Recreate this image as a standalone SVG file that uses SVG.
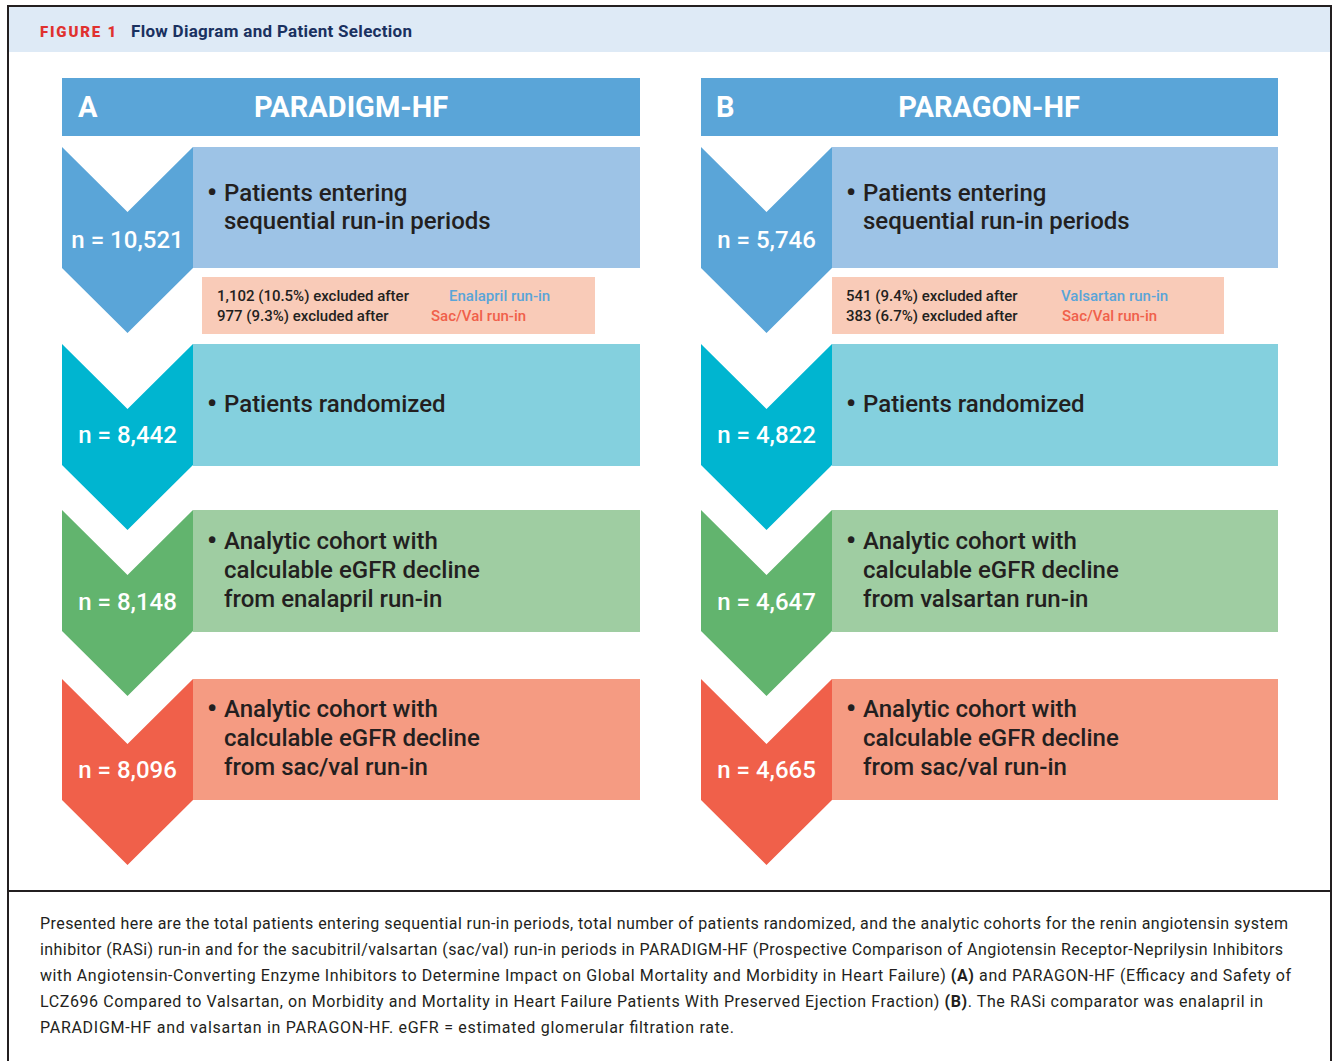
<svg xmlns="http://www.w3.org/2000/svg" width="1336" height="1061" viewBox="0 0 1336 1061">
  <style>
    text { font-family: Roboto, Lato, "Liberation Sans", sans-serif; }
    .hdr { fill: #5aa5d8; }
    .hdrtxt { fill: #ffffff; font-weight: bold; font-size: 29px; }
    .n { fill: #ffffff; font-size: 24px; font-weight: 500; text-anchor: middle; }
    .lbl { fill: #231f20; font-size: 24px; font-weight: 500; }
    .bul { fill: #231f20; font-size: 28px; font-weight: bold; }
    .exc { fill: #f9cbb8; }
    .exctxt { fill: #231f20; font-size: 15px; font-weight: 500; }
    .blue { fill: #5aa5d8; }
    .red { fill: #f0604a; }
    .cap { fill: #231f20; font-size: 16px; }
  </style>
  <defs>
    <!-- chevron shape, 131 wide, drawn from top-left corner -->
    <path id="chev" d="M0,0 L65.5,65 L131,0 L131,121 L65.5,186 L0,121 Z"/>
  </defs>

  <!-- frame and title band -->
  <rect x="0" y="0" width="1336" height="1061" fill="#ffffff"/>
  <rect x="9" y="7" width="1321" height="45" fill="#deeaf6"/>
  <path d="M8,1061 V6 H1331 V1061" fill="none" stroke="#231f20" stroke-width="2"/>
  <line x1="8" y1="891" x2="1331" y2="891" stroke="#231f20" stroke-width="2"/>
  <text x="40" y="37" font-size="15" font-weight="900" fill="#e0312f" letter-spacing="1.8" textLength="78" lengthAdjust="spacing">FIGURE 1</text>
  <text x="131" y="37" font-size="17" font-weight="bold" fill="#1a3160" textLength="281" lengthAdjust="spacing">Flow Diagram and Patient Selection</text>

  <!-- Panel A -->
  <g id="panel-a-header">
    <rect class="hdr" x="62" y="78" width="578" height="58"/>
    <text class="hdrtxt" x="78" y="117">A</text>
    <text class="hdrtxt" x="351" y="117" text-anchor="middle">PARADIGM-HF</text>
  </g>

  <g id="a-entering">
    <rect x="193" y="147" width="447" height="121" fill="#9dc3e6"/>
    <use href="#chev" x="62" y="147" fill="#5aa5d8"/>
    <text class="n" x="127.5" y="248">n = 10,521</text>
    <text class="bul" x="207" y="202">•</text>
    <text class="lbl" x="224" y="201">Patients entering</text>
    <text class="lbl" x="224" y="229">sequential run-in periods</text>
  </g>
  <g id="a-excluded">
    <rect class="exc" x="202" y="277" width="393" height="57"/>
    <text class="exctxt" x="217" y="301">1,102 (10.5%) excluded after</text>
    <text class="exctxt blue" x="449" y="301">Enalapril run-in</text>
    <text class="exctxt" x="217" y="321">977 (9.3%) excluded after</text>
    <text class="exctxt red" x="431" y="321">Sac/Val run-in</text>
  </g>
  <g id="a-randomized">
    <rect x="193" y="344" width="447" height="122" fill="#84d0de"/>
    <use href="#chev" x="62" y="344" fill="#00b5d0"/>
    <text class="n" x="127.5" y="443">n = 8,442</text>
    <text class="bul" x="207" y="413">•</text>
    <text class="lbl" x="224" y="412">Patients randomized</text>
  </g>
  <g id="a-rasi">
    <rect x="193" y="510" width="447" height="122" fill="#9fcda2"/>
    <use href="#chev" x="62" y="510" fill="#62b46e"/>
    <text class="n" x="127.5" y="610">n = 8,148</text>
    <text class="bul" x="207" y="550">•</text>
    <text class="lbl" x="224" y="549">Analytic cohort with</text>
    <text class="lbl" x="224" y="578">calculable eGFR decline</text>
    <text class="lbl" x="224" y="607">from enalapril run-in</text>
  </g>
  <g id="a-sacval">
    <rect x="193" y="679" width="447" height="121" fill="#f59b82"/>
    <use href="#chev" x="62" y="679" fill="#f0604a"/>
    <text class="n" x="127.5" y="778">n = 8,096</text>
    <text class="bul" x="207" y="718">•</text>
    <text class="lbl" x="224" y="717">Analytic cohort with</text>
    <text class="lbl" x="224" y="746">calculable eGFR decline</text>
    <text class="lbl" x="224" y="775">from sac/val run-in</text>
  </g>

  <!-- Panel B -->
  <g id="panel-b-header">
    <rect class="hdr" x="701" y="78" width="577" height="58"/>
    <text class="hdrtxt" x="716" y="117">B</text>
    <text class="hdrtxt" x="989" y="117" text-anchor="middle">PARAGON-HF</text>
  </g>

  <g id="b-entering">
    <rect x="832" y="147" width="446" height="121" fill="#9dc3e6"/>
    <use href="#chev" x="701" y="147" fill="#5aa5d8"/>
    <text class="n" x="766.5" y="248">n = 5,746</text>
    <text class="bul" x="846" y="202">•</text>
    <text class="lbl" x="863" y="201">Patients entering</text>
    <text class="lbl" x="863" y="229">sequential run-in periods</text>
  </g>
  <g id="b-excluded">
    <rect class="exc" x="832" y="277" width="392" height="57"/>
    <text class="exctxt" x="846" y="301">541 (9.4%) excluded after</text>
    <text class="exctxt blue" x="1061" y="301">Valsartan run-in</text>
    <text class="exctxt" x="846" y="321">383 (6.7%) excluded after</text>
    <text class="exctxt red" x="1062" y="321">Sac/Val run-in</text>
  </g>
  <g id="b-randomized">
    <rect x="832" y="344" width="446" height="122" fill="#84d0de"/>
    <use href="#chev" x="701" y="344" fill="#00b5d0"/>
    <text class="n" x="766.5" y="443">n = 4,822</text>
    <text class="bul" x="846" y="413">•</text>
    <text class="lbl" x="863" y="412">Patients randomized</text>
  </g>
  <g id="b-rasi">
    <rect x="832" y="510" width="446" height="122" fill="#9fcda2"/>
    <use href="#chev" x="701" y="510" fill="#62b46e"/>
    <text class="n" x="766.5" y="610">n = 4,647</text>
    <text class="bul" x="846" y="550">•</text>
    <text class="lbl" x="863" y="549">Analytic cohort with</text>
    <text class="lbl" x="863" y="578">calculable eGFR decline</text>
    <text class="lbl" x="863" y="607">from valsartan run-in</text>
  </g>
  <g id="b-sacval">
    <rect x="832" y="679" width="446" height="121" fill="#f59b82"/>
    <use href="#chev" x="701" y="679" fill="#f0604a"/>
    <text class="n" x="766.5" y="778">n = 4,665</text>
    <text class="bul" x="846" y="718">•</text>
    <text class="lbl" x="863" y="717">Analytic cohort with</text>
    <text class="lbl" x="863" y="746">calculable eGFR decline</text>
    <text class="lbl" x="863" y="775">from sac/val run-in</text>
  </g>

  <!-- connectors: the chevrons themselves carry the flow; no separate lines -->
  <g id="connectors"></g>

  <!-- legend text -->
  <g id="caption">
    <text class="cap" x="40" y="929" textLength="1248" lengthAdjust="spacing">Presented here are the total patients entering sequential run-in periods, total number of patients randomized, and the analytic cohorts for the renin angiotensin system</text>
    <text class="cap" x="40" y="955" textLength="1243" lengthAdjust="spacing">inhibitor (RASi) run-in and for the sacubitril/valsartan (sac/val) run-in periods in PARADIGM-HF (Prospective Comparison of Angiotensin Receptor-Neprilysin Inhibitors</text>
    <text class="cap" x="40" y="981" textLength="1251" lengthAdjust="spacing">with Angiotensin-Converting Enzyme Inhibitors to Determine Impact on Global Mortality and Morbidity in Heart Failure) <tspan font-weight="bold">(A)</tspan> and PARAGON-HF (Efficacy and Safety of</text>
    <text class="cap" x="40" y="1007" textLength="1223" lengthAdjust="spacing">LCZ696 Compared to Valsartan, on Morbidity and Mortality in Heart Failure Patients With Preserved Ejection Fraction) <tspan font-weight="bold">(B)</tspan>. The RASi comparator was enalapril in</text>
    <text class="cap" x="40" y="1033" textLength="694" lengthAdjust="spacing">PARADIGM-HF and valsartan in PARAGON-HF. eGFR = estimated glomerular filtration rate.</text>
  </g>
</svg>
